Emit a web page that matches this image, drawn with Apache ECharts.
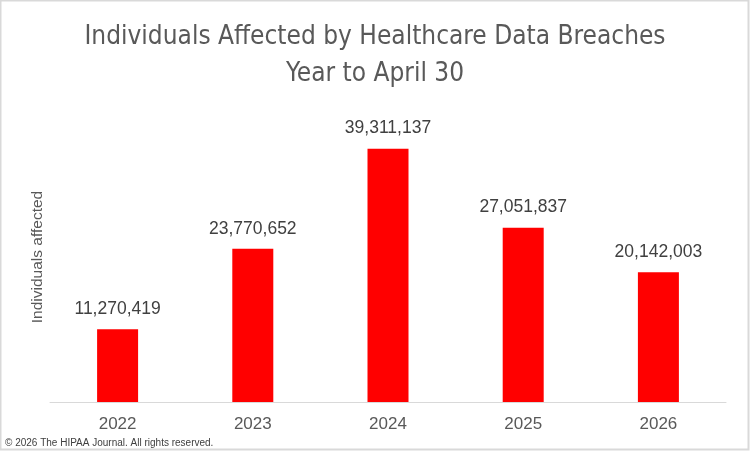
<!DOCTYPE html>
<html lang="en">

<head>
    <meta charset="UTF-8">
    <title>Individuals Affected by Healthcare Data Breaches</title>
    <style>
        html, body {
            margin: 0;
            padding: 0;
            background: #fff;
        }
    </style>
    <script src="https://cdn.jsdelivr.net/npm/echarts@6/dist/echarts.min.js"></script>
</head>

<body>
    <div id="box" style="width:750px; height:451px;"></div>
    <script>
        // 数据
        const years = ['2022', '2023', '2024', '2025', '2026'];
        const affected = [11270419, 23770652, 39311137, 27051837, 20142003];

        (function () {
            let chart = echarts.init(document.getElementById('box'));

            let option = {
                backgroundColor: '#fff',
                title: {
                    text: 'Individuals Affected by Healthcare Data Breaches\nYear to April 30',
                    left: 'center',
                    top: 14,
                    textStyle: {
                        fontFamily: "'DejaVu Sans Condensed', Roboto, sans-serif",
                        fontSize: 26,
                        fontWeight: 'normal',
                        color: '#595959',
                        lineHeight: 37
                    }
                },
                grid: {
                    left: 50,
                    right: 24,
                    top: 112,
                    bottom: 49
                },
                xAxis: {
                    type: 'category',
                    data: years,
                    axisLine: { lineStyle: { color: '#d9d9d9', width: 1 } },
                    axisTick: { show: false },
                    axisLabel: {
                        color: '#595959',
                        fontSize: 17,
                        margin: 14,
                        fontFamily: 'Liberation Sans'
                    }
                },
                yAxis: {
                    type: 'value',
                    min: 0,
                    max: 45000000,
                    name: 'Individuals affected',
                    nameLocation: 'middle',
                    nameRotate: 90,
                    nameGap: 4,
                    nameTextStyle: {
                        color: '#595959',
                        fontSize: 15.5,
                        fontFamily: 'Liberation Sans'
                    },
                    axisLabel: { show: false },
                    axisLine: { show: false },
                    axisTick: { show: false },
                    splitLine: { show: false }
                },
                series: [{
                    type: 'bar',
                    data: affected,
                    barWidth: 41,
                    itemStyle: { color: '#ff0000' },
                    label: {
                        show: true,
                        position: 'top',
                        distance: 11,
                        color: '#404040',
                        fontSize: 17.5,
                        fontFamily: 'Liberation Sans',
                        formatter: p => p.value.toLocaleString('en-US')
                    }
                }],
                graphic: [
                    {
                        type: 'rect',
                        shape: { x: 0.5, y: 0.5, width: 748, height: 449 },
                        style: { fill: 'none', stroke: '#d9d9d9', lineWidth: 2 },
                        silent: true
                    },
                    {
                        type: 'text',
                        left: 5,
                        top: 438,
                        style: {
                            text: '© 2026 The HIPAA Journal. All rights reserved.',
                            fill: '#404040',
                            fontSize: 10,
                            fontFamily: 'Liberation Sans'
                        }
                    }
                ]
            };

            chart.setOption(option);
        })();
    </script>
</body>

</html>
